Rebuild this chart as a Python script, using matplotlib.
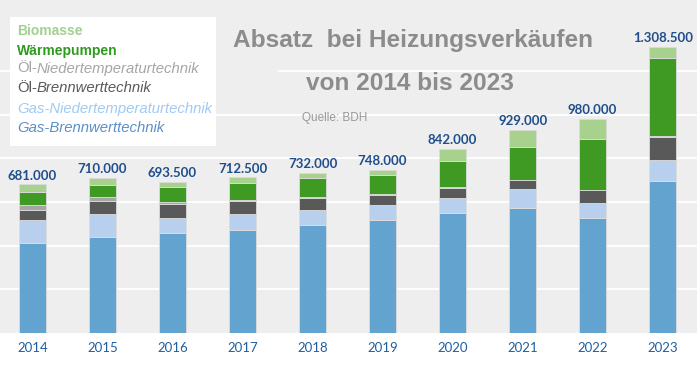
import numpy as np
import matplotlib
matplotlib.use("Agg")
import matplotlib.pyplot as plt
from matplotlib.patches import Rectangle
from matplotlib.text import Annotation

# Absatz Heizungsverkäufe Deutschland (Quelle: BDH), Stück
years = [2014, 2015, 2016, 2017, 2018, 2019, 2020, 2021, 2022, 2023]
gas_bw = [412600, 441200, 457300, 471200, 495300, 515800, 549700, 571900, 526000, 694700]
gas_nt = [107000, 102500, 71400, 73300, 68700, 71900, 70100, 85600, 70500, 99400]
oel_bw = [45800, 62300, 64100, 59500, 56300, 45800, 44400, 41200, 56300, 104000]
oel_nt = [21000, 15600, 6400, 4600, 4600, 4600, 2300, 3200, 2000, 6000]
waermepumpen = [58000, 57700, 71400, 79200, 85600, 85200, 120500, 151100, 233600, 355900]
biomasse = [36600, 30700, 22900, 24700, 21500, 24700, 55000, 76000, 91600, 48500]
totals = [681000, 710000, 693500, 712500, 732000, 748000, 842000, 929000, 980000, 1308500]

C = {"gas_bw": "#62a3cf", "gas_nt": "#b8cfee", "oel_bw": "#595959",
     "oel_nt": "#a6a6a6", "wp": "#3e9a22", "bio": "#a9d18e"}
TXT = {"bio": "#a3cf92", "wp": "#2e9a1e", "oel_nt": "#a6a6a6",
       "oel_bw": "#595959", "gas_nt": "#9fcaf5", "gas_bw": "#5b8fc7"}

W, H = 700, 370
plt.rcParams["font.family"] = ["Liberation Sans", "DejaVu Sans"]


def px(x, y):
    return x / W, 1 - y / H


fig = plt.figure(figsize=(7, 3.7), dpi=100, facecolor="white")
ax = fig.add_axes([0, 1 - 333 / H, 697 / W, 333 / H])
ax.set_facecolor("#eeeeee")

x = np.arange(len(years))
series = [(gas_bw, "gas_bw"), (gas_nt, "gas_nt"), (oel_bw, "oel_bw"),
          (oel_nt, "oel_nt"), (waermepumpen, "wp"), (biomasse, "bio")]
bottom = np.zeros(len(years))
for vals, key in series:
    ax.bar(x, vals, width=0.39, bottom=bottom, color=C[key],
           edgecolor="#dcdcdc", linewidth=0.6, zorder=3)
    bottom += np.array(vals)

for xi, top, t in zip(x, bottom, totals):
    ax.annotate(f"{t:,}".replace(",", "."), (xi, top), xytext=(0, 2),
                textcoords="offset points", ha="center", va="bottom",
                fontsize=9.5, fontweight="bold", color="#1f4e8c",
                family=["Lato", "DejaVu Sans"])

ax.set_xlim(-0.464, 9.49)
ax.set_ylim(0, 1525000)
ax.set_yticks(np.arange(200000, 1200001, 200000))
ax.yaxis.grid(True, color="white", lw=1.3, zorder=1)
ax.set_axisbelow(True)
ax.tick_params(axis="y", left=False, labelleft=False)
ax.tick_params(axis="x", bottom=False, pad=3)
ax.set_xticks(x)
ax.set_xticklabels([str(y) for y in years], fontsize=9.5, color="#1f5f9f",
                   family=["Lato", "DejaVu Sans"])
for s in ax.spines.values():
    s.set_visible(False)

# Titelfeld verdeckt das Gitter links vom Titel
fig.add_artist(Rectangle(px(216, 80), 62 / W, 20 / H, transform=fig.transFigure,
                         facecolor="#eeeeee", edgecolor="none", zorder=1))
fig.text(*px(413, 47.5), "Absatz  bei Heizungsverkäufen", ha="center",
         va="baseline", fontsize=17.6, fontweight="bold", color="#8c8c8c")
fig.text(*px(410, 90), "von 2014 bis 2023", ha="center", va="baseline",
         fontsize=17.6, fontweight="bold", color="#8c8c8c")
fig.text(*px(302, 121.5), "Quelle: BDH", ha="left", va="baseline",
         fontsize=8.5, color="#999999")

# Legende als Textblock
fig.add_artist(Rectangle(px(10, 146), 206 / W, 129 / H, transform=fig.transFigure,
                         facecolor="white", edgecolor="none", zorder=1))
fig.text(*px(17, 35), "Biomasse", fontsize=10, fontweight="bold",
         color=TXT["bio"], va="baseline", zorder=3)
fig.text(*px(17, 55.5), "Wärmepumpen", fontsize=10, fontweight="bold",
         color=TXT["wp"], va="baseline", zorder=3)
legend_rows = [("Öl-", "Niedertemperaturtechnik", "oel_nt", 75.5),
               ("Öl-", "Brennwerttechnik", "oel_bw", 95.5)]
for head, rest, key, yy in legend_rows:
    t1 = fig.text(*px(17, yy), head, fontsize=10.7, color=TXT[key],
                  va="bottom", zorder=3)
    fig.add_artist(Annotation(rest, xy=(1, 0), xycoords=t1, va="bottom",
                              ha="left", fontsize=10.7, style="italic",
                              color=TXT[key], zorder=3))
fig.text(*px(17, 115.5), "Gas-Niedertemperaturtechnik", fontsize=10.7,
         style="italic", color=TXT["gas_nt"], va="bottom", zorder=3)
fig.text(*px(17, 135), "Gas-Brennwerttechnik", fontsize=10.7,
         style="italic", color=TXT["gas_bw"], va="bottom", zorder=3)

fig.savefig("out.png", dpi=100, facecolor="white")
